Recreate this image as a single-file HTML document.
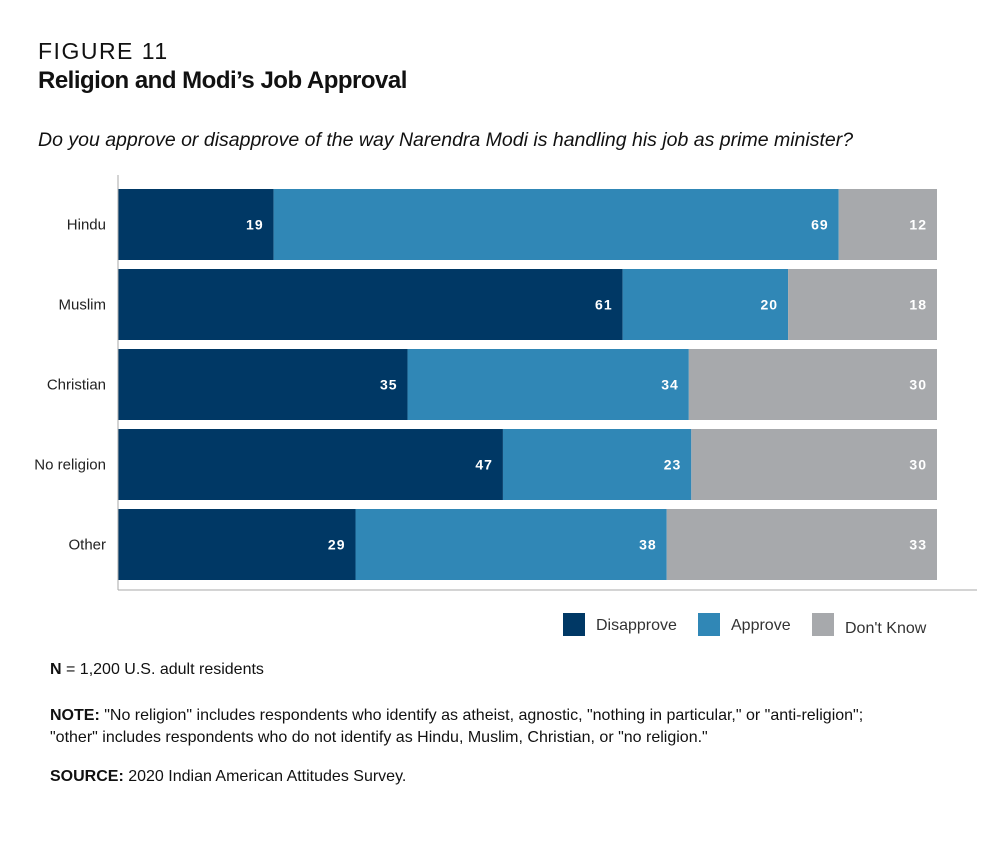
<!DOCTYPE html>
<html><head><meta charset="utf-8">
<style>
body{margin:0;background:#fff;font-family:"Liberation Sans",sans-serif;color:#111;}
#wrap{position:relative;width:1000px;height:854px;overflow:hidden;}
.t{position:absolute;white-space:nowrap;}
</style></head>
<body>
<div id="wrap">
<div class="t" style="left:38px;top:38px;font-size:23px;letter-spacing:1.5px;">FIGURE 11</div>
<div class="t" style="left:38px;top:67px;font-size:24px;font-weight:bold;letter-spacing:-0.5px;">Religion and Modi’s Job Approval</div>
<div class="t" style="left:38px;top:129px;font-size:19.5px;font-style:italic;">Do you approve or disapprove of the way Narendra Modi is handling his job as prime minister?</div>
<svg id="chart" width="1000" height="854" style="position:absolute;left:0;top:0;"></svg>
<div class="t" style="left:50px;top:661px;font-size:16px;"><b>N</b> = 1,200 U.S. adult residents</div>
<div class="t" style="left:50px;top:705px;font-size:16px;line-height:22px;"><b>NOTE:</b> "No religion" includes respondents who identify as atheist, agnostic, "nothing in particular," or "anti-religion";<br>"other" includes respondents who do not identify as Hindu, Muslim, Christian, or "no religion."</div>
<div class="t" style="left:50px;top:768px;font-size:16px;"><b>SOURCE:</b> 2020 Indian American Attitudes Survey.</div>
</div>
<script>
const categories=["Hindu","Muslim","Christian","No religion","Other"];
const disapprove=[19,61,35,47,29];
const approve=[69,20,34,23,38];
const dontKnow=[12,18,30,30,33];
const seriesNames=["Disapprove","Approve","Don't Know"];
const NS="http://www.w3.org/2000/svg";
const svg=document.getElementById('chart');
const x0=118,x1=937,yTop=189,band=80,barH=71;
const series=[disapprove,approve,dontKnow];
const ys=i=>yTop+i*band;
const colors=["#003865","#3087b6","#a7a9ac"];
function mk(tag,attrs){const e=document.createElementNS(NS,tag);for(const k in attrs)e.setAttribute(k,attrs[k]);svg.appendChild(e);return e;}
categories.forEach((c,i)=>{
  const total=series.reduce((a,s)=>a+s[i],0);
  const xs=v=>x0+(x1-x0)*v/total;
  let acc=0;
  series.forEach((s,j)=>{
    const r=mk('rect',{x:xs(acc),y:ys(i),width:xs(acc+s[i])-xs(acc),height:barH,fill:colors[j]});
    
    
    acc+=s[i];
    const t=mk('text',{x:xs(acc)-10,y:ys(i)+barH/2+5,'text-anchor':'end','font-size':'14','font-weight':'bold',fill:'#fff','font-family':'Liberation Sans, sans-serif','letter-spacing':'1'});
    t.textContent=s[i];
    
    
  });
  const l=mk('text',{x:106,y:ys(i)+barH/2+5,'text-anchor':'end','font-size':'15',fill:'#222','font-family':'Liberation Sans, sans-serif'});
  l.textContent=c;
  
  
});
const ax=mk('line',{x1:118,y1:175,x2:118,y2:590,stroke:'#aaa','stroke-width':1});


const bx=mk('line',{x1:118,y1:590,x2:977,y2:590,stroke:'#aaa','stroke-width':1});


const legX=[563,698,812];
seriesNames.forEach((n,j)=>{
  const r=mk('rect',{x:legX[j],y:613,width:22,height:23,fill:colors[j]});
  
  
  const t=mk('text',{x:legX[j]+33,y:j==2?633:630,'font-size':'16',fill:'#333','font-family':'Liberation Sans, sans-serif'});
  t.textContent=n;
  
  
});
</script>
</body></html>
